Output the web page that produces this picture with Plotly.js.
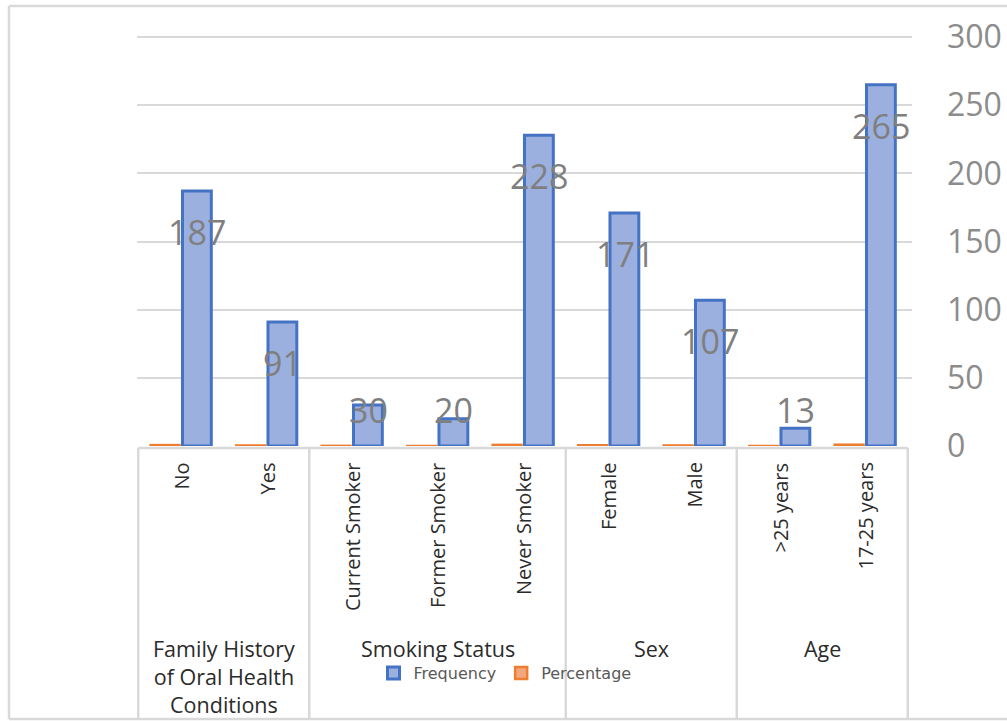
<!DOCTYPE html>
<html>
<head>
<meta charset="utf-8">
<script src="https://cdn.plot.ly/plotly-3.0.1.min.js"></script>
<style>html,body{margin:0;padding:0;background:#fff;}#chart{width:1007px;height:721px;}</style>
</head>
<body>
<div id="chart"></div>
<script>
// ---- data ----
const categories = ["No", "Yes", "Current Smoker", "Former Smoker", "Never Smoker", "Female", "Male", ">25 years", "17-25 years"];
const groupNames = ["Family History<br>of Oral Health<br>Conditions", "Smoking Status", "Sex", "Age"];
const groupSizes = [2, 3, 2, 2];
const frequency = [187, 91, 30, 20, 228, 171, 107, 13, 265];
const percentage = [0.67, 0.33, 0.11, 0.07, 0.82, 0.62, 0.38, 0.05, 0.95];
const yTicks = [0, 50, 100, 150, 200, 250, 300];

// ---- layout constants ----
const W = 1007, H = 721;
const mL = 137, mR = 95, mT = 36, mB = 275;
const plotH = H - mT - mB;
const yMax = 300.8;
const pxPerUnit = plotH / yMax;
const py = p => -(p - (H - mB)) / plotH; // pixel y -> paper y
const pxX = p => (p - mL) / (W - mL - mR); // pixel x -> paper x

const traces = [
  {
    type: 'bar', name: 'Percentage', x: categories, y: percentage,
    marker: {color: '#f4a77c', line: {color: '#ed7d31', width: 2.5}},
    hoverinfo: 'skip'
  },
  {
    type: 'bar', name: 'Frequency', x: categories, y: frequency,
    marker: {color: '#9cb0df', line: {color: '#4472c4', width: 3}},
    hoverinfo: 'skip'
  }
];

const annotations = [];
// data labels on Frequency bars
frequency.forEach((v, i) => {
  const shift = Math.min(41, v * pxPerUnit - 36);
  annotations.push({
    x: categories[i], y: v, xref: 'x', yref: 'y', xshift: 16, yshift: -shift,
    text: String(v), showarrow: false, xanchor: 'center', yanchor: 'middle',
    font: {family: 'Open Sans', size: 34, color: '#7f7f7f'}
  });
});
// rotated category labels
categories.forEach((c, i) => {
  annotations.push({
    x: c, xref: 'x', y: py(461), yref: 'paper', text: c, textangle: -90,
    showarrow: false, xanchor: 'center', yanchor: 'top',
    font: {family: 'Open Sans', size: 20, color: '#2b2b2b'}
  });
});
// group labels and divider shapes
const shapes = [];
const lineStyle = {color: '#d9d9d9', width: 2.5};
let start = 0;
shapes.push({type: 'line', xref: 'x', yref: 'paper', x0: -0.5, x1: categories.length - 0.5, y0: py(448), y1: py(448), line: lineStyle});
shapes.push({type: 'line', xref: 'x', yref: 'paper', x0: -0.5, x1: -0.5, y0: py(448), y1: py(719), line: lineStyle});
groupSizes.forEach((n, g) => {
  const center = start + (n - 1) / 2;
  annotations.push({
    x: center, xref: 'x', y: py(647 - 15), yref: 'paper', text: groupNames[g],
    showarrow: false, xanchor: 'center', yanchor: 'top', align: 'center',
    font: {family: 'Open Sans', size: 21.5, color: '#2b2b2b'}
  });
  start += n;
  shapes.push({type: 'line', xref: 'x', yref: 'paper', x0: start - 0.5, x1: start - 0.5, y0: py(448), y1: py(719), line: lineStyle});
});
// outer frame
shapes.push({type: 'line', xref: 'paper', yref: 'paper', x0: pxX(9), x1: pxX(9), y0: py(6), y1: py(719), line: lineStyle});
shapes.push({type: 'line', xref: 'paper', yref: 'paper', x0: pxX(9), x1: pxX(1010), y0: py(6), y1: py(6), line: lineStyle});
shapes.push({type: 'line', xref: 'paper', yref: 'paper', x0: pxX(9), x1: pxX(1010), y0: py(719), y1: py(719), line: lineStyle});

const layout = {
  width: W, height: H,
  margin: {l: mL, r: mR, t: mT, b: mB, pad: 0},
  paper_bgcolor: '#ffffff', plot_bgcolor: '#ffffff',
  barmode: 'group', bargap: 0.256, bargroupgap: 0.094,
  xaxis: {type: 'category', showticklabels: false, showgrid: false, zeroline: false, showline: false, ticks: '', fixedrange: true},
  yaxis: {
    side: 'right', range: [0, yMax], tickvals: yTicks, ticktext: yTicks.map(String),
    showgrid: true, gridcolor: '#d9d9d9', gridwidth: 2, zeroline: false, showline: false, ticks: '',
    ticklabelstandoff: 34,
    tickfont: {family: 'Open Sans', size: 32, color: '#8c8c8c'}, fixedrange: true
  },
  showlegend: true,
  legend: {
    orientation: 'h', traceorder: 'reversed', x: pxX(505), xanchor: 'center', y: py(673), yanchor: 'middle',
    bgcolor: 'rgba(0,0,0,0)', font: {family: 'DejaVu Sans', size: 16, color: '#595959'}
  },
  annotations: annotations,
  shapes: shapes
};

Plotly.newPlot('chart', traces, layout, {staticPlot: true, displayModeBar: false});
</script>
</body>
</html>
